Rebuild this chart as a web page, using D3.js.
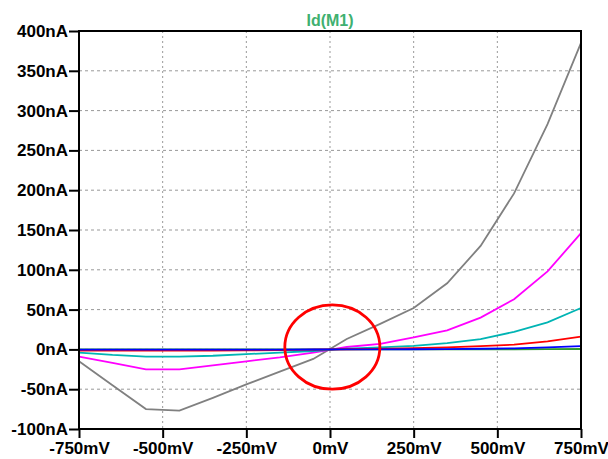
<!DOCTYPE html>
<html lang="en">
<head>
<meta charset="UTF-8">
<title>Id(M1)</title>
<script src="https://d3js.org/d3.v7.min.js"></script>
<style>
    body { margin: 0; background: #fff; }
    text { font-family: "Liberation Sans", Arial, sans-serif; font-weight: bold; }
</style>
</head>
<body>
<script>
// sweep voltage (mV) and drain current (nA) for each stepped trace
const voltages = [-750, -650, -550, -450, -350, -250, -150, -50, 50, 150, 250, 350, 450, 550, 650, 750];
const grayTrace    = [-15, -45, -75, -77, -61, -44, -28, -12, 13, 32, 52, 83, 130, 196, 283, 385];
const magentaTrace = [-9, -17, -25, -25, -20, -15, -10, -4, 3, 7, 15, 24, 40, 63, 98, 146];
const cyanTrace    = [-4, -7, -9, -9, -8, -6, -4, -2, 1, 2.5, 4.5, 8, 13, 22, 34, 52];
const redTrace     = [-1.5, -1.5, -1.5, -1.5, -1.5, -1.2, -0.8, -0.4, 0.2, 0.5, 1.5, 2.5, 4, 6, 10, 16];
const blueTrace    = [-0.3, -0.3, -0.3, -0.3, -0.3, -0.3, -0.2, -0.1, 0, 0.1, 0.2, 0.4, 0.8, 1.4, 2.5, 4];
const greenTrace   = [0, 0, 0, 0, 0, 0, 0, 0, 0, 0, 0.1, 0.1, 0.1, 0.2, 0.3, 0.5];

const xTicks = [-750, -500, -250, 0, 250, 500, 750];
const yTicks = [-100, -50, 0, 50, 100, 150, 200, 250, 300, 350, 400];

// red ellipse marking the origin (data units)
const markCenter = [7, 3];
const markRadius = [142, 53];

const width = 608, height = 459;
const margin = { top: 31, right: 27, bottom: 30, left: 79 };
const chartWidth = width - margin.left - margin.right;
const chartHeight = height - margin.top - margin.bottom;

const svg = d3.select('body').append('svg')
    .attr('width', width)
    .attr('height', height);

const chart = svg.append('g')
    .attr('transform', `translate(${margin.left}, ${margin.top})`);

const xScale = d3.scaleLinear().domain([-750, 750]).range([0, chartWidth]);
const yScale = d3.scaleLinear().domain([-100, 400]).range([chartHeight, 0]);

// grid
chart.append('g').selectAll('line')
    .data(yTicks)
    .join('line')
    .attr('x1', 0).attr('x2', chartWidth)
    .attr('y1', d => yScale(d)).attr('y2', d => yScale(d))
    .attr('stroke', '#999')
    .attr('stroke-dasharray', '3,3');

chart.append('g').selectAll('line')
    .data(xTicks)
    .join('line')
    .attr('x1', d => xScale(d)).attr('x2', d => xScale(d))
    .attr('y1', 0).attr('y2', chartHeight)
    .attr('stroke', '#999')
    .attr('stroke-dasharray', '2,3');

// traces
const traces = [
    { values: grayTrace, color: '#808080' },
    { values: magentaTrace, color: '#ff00ff' },
    { values: cyanTrace, color: '#00b4b4' },
    { values: greenTrace, color: '#2e9a2e' },
    { values: redTrace, color: '#ff0000' },
    { values: blueTrace, color: '#0000ff' }
];

const line = d3.line()
    .x((d, i) => xScale(voltages[i]))
    .y(d => yScale(d));

chart.append('g').selectAll('path')
    .data(traces)
    .join('path')
    .attr('d', d => line(d.values))
    .attr('fill', 'none')
    .attr('stroke', d => d.color)
    .attr('stroke-width', 1.8);

// annotation ellipse
chart.append('ellipse')
    .attr('cx', xScale(markCenter[0]))
    .attr('cy', yScale(markCenter[1]))
    .attr('rx', xScale(markRadius[0]) - xScale(0))
    .attr('ry', yScale(0) - yScale(markRadius[1]))
    .attr('fill', 'none')
    .attr('stroke', '#ff0000')
    .attr('stroke-width', 2.8);

// frame
chart.append('rect')
    .attr('width', chartWidth)
    .attr('height', chartHeight)
    .attr('fill', 'none')
    .attr('stroke', '#000')
    .attr('stroke-width', 2);

// axes
const yAxis = chart.append('g')
    .call(d3.axisLeft(yScale).tickValues(yTicks).tickSize(10).tickPadding(1)
        .tickFormat(d => d + 'nA'));

const xAxis = chart.append('g')
    .attr('transform', `translate(0, ${chartHeight})`)
    .call(d3.axisBottom(xScale).tickValues(xTicks).tickSize(9).tickPadding(4)
        .tickFormat(d => d + 'mV'));

[yAxis, xAxis].forEach(ax => {
    ax.select('.domain').remove();
    ax.selectAll('line').attr('stroke', '#000').attr('stroke-width', 2);
    ax.selectAll('text')
        .attr('fill', '#000')
        .style('font-size', '17px');
});

// title
svg.append('text')
    .attr('x', margin.left + xScale(0))
    .attr('y', 26)
    .attr('text-anchor', 'middle')
    .attr('fill', '#40b070')
    .style('font-size', '16px')
    .text('Id(M1)');
</script>
</body>
</html>
